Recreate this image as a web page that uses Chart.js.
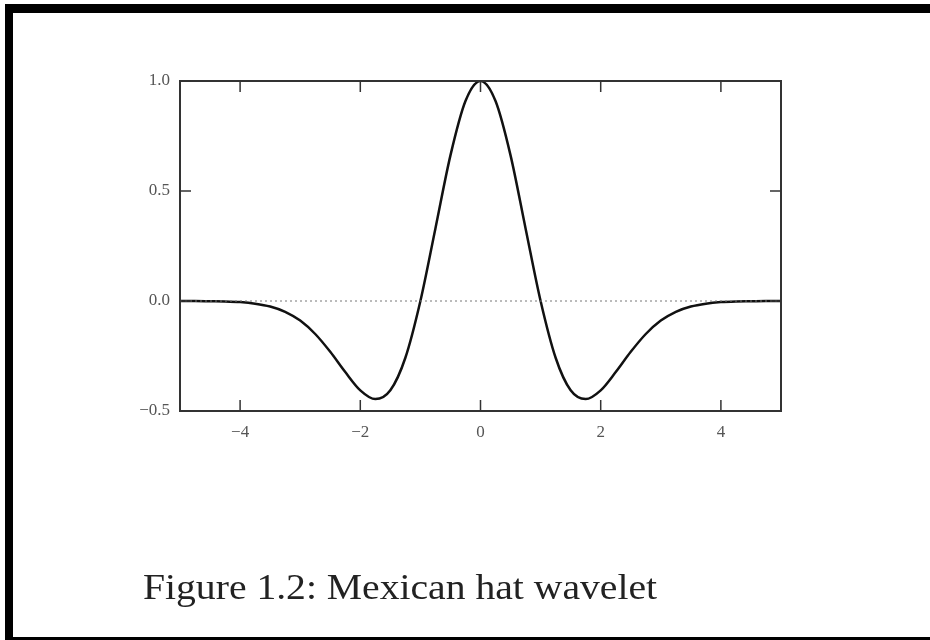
<!DOCTYPE html>
<html>
<head>
<meta charset="utf-8">
<script src="https://cdn.jsdelivr.net/npm/chart.js@4/dist/chart.umd.min.js"></script>
<style>
  html, body { margin: 0; padding: 0; background: #fff; }
  #wrap { position: relative; width: 930px; height: 640px; overflow: hidden; }
  #chart { position: absolute; left: 0; top: 0; }
  #frame {
    position: absolute; left: 5px; top: 4px; width: 940px; height: 636px;
    box-sizing: border-box;
    border-left: 8px solid #000; border-top: 9px solid #000; border-bottom: 3px solid #000;
  }
  #caption {
    position: absolute; left: 143px; top: 568px;
    font-family: "Liberation Serif", "DejaVu Serif", serif;
    font-size: 35px; color: #222; white-space: nowrap;
    transform-origin: 0 0;
  }
</style>
</head>
<body>
<div id="wrap">
  <canvas id="chart" width="930" height="640"></canvas>
  <div id="frame"></div>
  <div id="caption">Figure 1.2: Mexican hat wavelet</div>
</div>
<script>
// values
const xs = [-5, -4.75, -4.5, -4.25, -4, -3.75, -3.5, -3.25, -3, -2.75, -2.5, -2.25, -2, -1.75, -1.5, -1.25, -1, -0.75, -0.5, -0.25,
  0, 0.25, 0.5, 0.75, 1, 1.25, 1.5, 1.75, 2, 2.25, 2.5, 2.75, 3, 3.25, 3.5, 3.75, 4, 4.25, 4.5, 4.75, 5];
const ys = [0.000, -0.000, -0.001, -0.002, -0.005, -0.012, -0.025, -0.049, -0.089, -0.150, -0.231, -0.323, -0.406, -0.446, -0.406, -0.258, 0.000, 0.330, 0.662, 0.909,
  1.000, 0.909, 0.662, 0.330, 0.000, -0.258, -0.406, -0.446, -0.406, -0.323, -0.231, -0.150, -0.089, -0.049, -0.025, -0.012, -0.005, -0.002, -0.001, -0.000, 0.000];
const zeroX = [-5, 5];
const zeroY = [0, 0];
const xTicks = [-4, -2, 0, 2, 4];
const yTicks = [-0.5, 0, 0.5, 1.0];

const fmt = (v, d) => (v < 0 ? '\u2212' + Math.abs(v).toFixed(d) : v.toFixed(d));

// caption in the reference is wider than Times, stretch it to the same width
const cap = document.getElementById('caption');
cap.style.transform = 'scaleX(' + (514 / cap.getBoundingClientRect().width) + ')';

// box round the plot with short inward ticks on all four sides
const framePlugin = {
  id: 'frame',
  afterDatasetsDraw(chart) {
    const { ctx, chartArea: a, scales: { x, y } } = chart;
    const len = 11;
    ctx.save();
    ctx.strokeStyle = '#333';
    ctx.lineWidth = 2;
    ctx.strokeRect(a.left, a.top, a.right - a.left, a.bottom - a.top);
    ctx.lineWidth = 1.5;
    ctx.beginPath();
    xTicks.forEach(v => {
      const px = x.getPixelForValue(v);
      ctx.moveTo(px, a.bottom); ctx.lineTo(px, a.bottom - len);
      ctx.moveTo(px, a.top); ctx.lineTo(px, a.top + len);
    });
    yTicks.forEach(v => {
      const py = y.getPixelForValue(v);
      ctx.moveTo(a.left, py); ctx.lineTo(a.left + len, py);
      ctx.moveTo(a.right, py); ctx.lineTo(a.right - len, py);
    });
    ctx.stroke();
    ctx.restore();
  }
};

const tickFont = { family: '"Liberation Serif", "DejaVu Serif", serif', size: 17 };

new Chart(document.getElementById('chart').getContext('2d'), {
  type: 'line',
  data: {
    datasets: [
      {
        data: zeroX.map((v, i) => ({ x: v, y: zeroY[i] })),
        borderColor: '#777', borderWidth: 1, borderDash: [2, 3], pointRadius: 0
      },
      {
        data: xs.map((v, i) => ({ x: v, y: ys[i] })),
        borderColor: '#111', borderWidth: 2.5, pointRadius: 0,
        cubicInterpolationMode: 'monotone'
      }
    ]
  },
  options: {
    responsive: false,
    animation: false,
    layout: { padding: { left: 130, top: 81, right: 149, bottom: 199 } },
    plugins: { legend: { display: false }, tooltip: { enabled: false } },
    scales: {
      x: {
        type: 'linear', min: -5, max: 5,
        grid: { display: false, drawTicks: false },
        border: { display: false },
        afterBuildTicks: s => { s.ticks = xTicks.map(v => ({ value: v })); },
        afterFit: s => { s.height = 30; },
        ticks: { color: '#555', font: tickFont, padding: 11, maxRotation: 0, callback: v => fmt(v, 0) }
      },
      y: {
        type: 'linear', min: -0.5, max: 1.0,
        grid: { display: false, drawTicks: false },
        border: { display: false },
        afterBuildTicks: s => { s.ticks = yTicks.map(v => ({ value: v })); },
        afterFit: s => { s.width = 50; },
        ticks: { color: '#555', font: tickFont, padding: 10, callback: v => fmt(v, 1) }
      }
    }
  },
  plugins: [framePlugin]
});
</script>
</body>
</html>
